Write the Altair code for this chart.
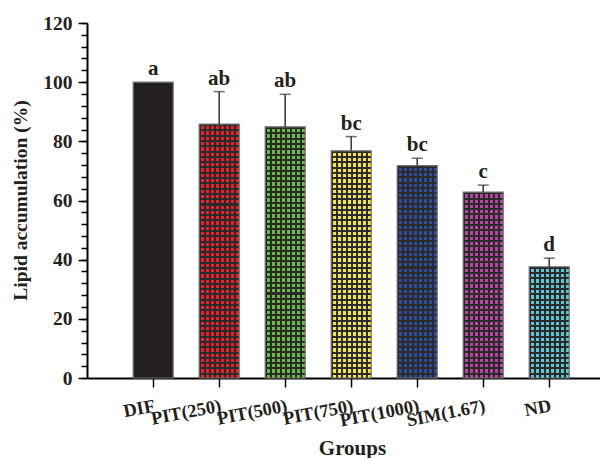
import altair as alt
import pandas as pd

groups = ["DIF", "PIT(250)", "PIT(500)", "PIT(750)", "PIT(1000)", "SIM(1.67)", "ND"]
means = [100, 85.8, 84.9, 76.8, 71.8, 62.8, 37.6]
errors = [0, 11.0, 11.0, 4.8, 2.5, 2.4, 2.9]
letters = ["a", "ab", "ab", "bc", "bc", "c", "d"]
colors = ["#231f20", "#e8222a", "#68bd3e", "#f3e73c", "#2f4d9f", "#b5479e", "#5cc6d3"]

df = pd.DataFrame({"group": groups, "mean": means, "err": errors, "letter": letters})
df["upper"] = df["mean"] + df["err"]

W, H = 513, 355
FONT = "Liberation Serif"
INK = "#231f20"
DARK = "#2a2a2a"
CLEAR = "rgba(0,0,0,0)"

x_enc = alt.X(
    "group:N", sort=groups, title="Groups",
    scale=alt.Scale(paddingInner=0.394, paddingOuter=0.583, align=0.6),
    axis=alt.Axis(
        labelAngle=349, labelAlign="right", labelBaseline="top",
        labelFont=FONT, labelFontSize=18.5, labelFontWeight="bold", labelColor=INK,
        labelPadding=9, tickSize=9, tickWidth=1.5, tickColor="black",
        domainColor="black", domainWidth=2,
        titleFont=FONT, titleFontSize=21, titleFontWeight="bold", titleColor=INK,
        titleX=265, titleY=76, titleBaseline="alphabetic",
    ),
)
y_scale = alt.Scale(domain=[0, 120], nice=False, zero=True)
y_major = alt.Y(
    "mean:Q", scale=y_scale, title="Lipid accumulation (%)",
    axis=alt.Axis(
        orient="left", values=list(range(0, 121, 20)), grid=False,
        labelFont=FONT, labelFontSize=19.5, labelFontWeight="bold", labelColor=INK,
        labelPadding=6, tickSize=9, tickWidth=1.5, tickColor="black",
        domainColor="black", domainWidth=2,
        titleFont=FONT, titleFontSize=19.5, titleFontWeight="bold", titleColor=INK,
        titleX=-61, titleY=177, titleBaseline="alphabetic",
    ),
)
y_none = alt.Y("mean:Q", scale=y_scale, axis=None)

base = alt.Chart(df)

bars = base.mark_bar().encode(
    x=x_enc, y=y_major,
    fill=alt.Fill("group:N", scale=alt.Scale(domain=groups, range=colors), legend=None),
)


def stripes(n, frac, vertical):
    stops = []
    for j in range(n):
        a = j / n
        b = (j + frac) / n
        stops += [
            alt.GradientStop(offset=a, color=CLEAR),
            alt.GradientStop(offset=a, color=DARK),
            alt.GradientStop(offset=b, color=DARK),
            alt.GradientStop(offset=b, color=CLEAR),
        ]
    if vertical:
        return alt.LinearGradient(gradient="linear", stops=stops, x1=0, x2=1, y1=0, y2=0)
    return alt.LinearGradient(gradient="linear", stops=stops, x1=0, x2=0, y1=0, y2=1)


layers = [bars]
cols = base.transform_filter(alt.datum.group != "DIF").mark_bar(
    fill=stripes(8, 0.38, True)).encode(x=x_enc, y=y_none)
layers.append(cols)
for g, m in zip(groups[1:], means[1:]):
    n = max(1, round(m * H / 120 / 5.3))
    layers.append(
        base.transform_filter(alt.datum.group == g).mark_bar(
            fill=stripes(n, 0.38, False)).encode(x=x_enc, y=y_none)
    )

outline = base.mark_bar(fillOpacity=0, stroke="#707070", strokeWidth=1.2).encode(x=x_enc, y=y_none)
layers.append(outline)

err_df = base.transform_filter(alt.datum.err > 0)
rules = err_df.mark_rule(color="#333333", strokeWidth=1.5).encode(
    x=x_enc, y=y_none, y2="upper:Q")
caps = err_df.mark_tick(color="#333333", thickness=1.5, size=11).encode(
    x=x_enc, y=alt.Y("upper:Q", scale=y_scale, axis=None))
texts = base.mark_text(
    font=FONT, fontSize=21, fontWeight="bold", color=INK,
    baseline="alphabetic", dy=-7,
).encode(x=x_enc, y=alt.Y("upper:Q", scale=y_scale, axis=None), text="letter:N")
layers += [rules, caps, texts]

minor = base.mark_rule(opacity=0).encode(
    y=alt.Y("mean:Q", scale=y_scale, title=None,
            axis=alt.Axis(orient="left", values=list(range(0, 121, 4)), labels=False,
                          grid=False, tickSize=6, tickWidth=1.5, tickColor="black",
                          domain=False, title=None)))
layers.append(minor)

chart = alt.layer(*layers).resolve_axis(y="independent").properties(
    width=W, height=H,
    padding={"left": 79, "top": 15, "right": 0, "bottom": 80},
    autosize=alt.AutoSizeParams(type="none"),
).configure_view(stroke=None)

chart.save("out.html", embed_options={"renderer": "svg", "actions": False})
